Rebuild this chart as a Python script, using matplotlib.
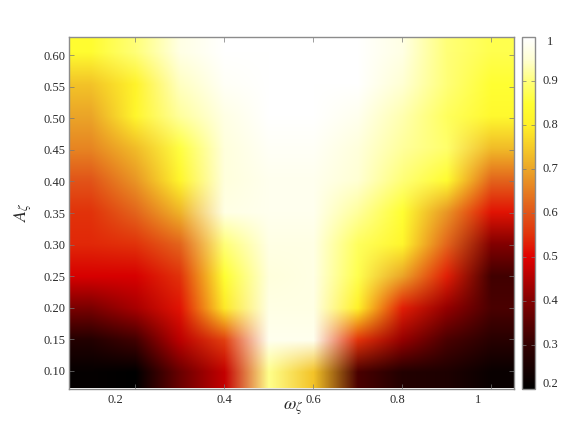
import numpy as np
import matplotlib as mpl
mpl.use("Agg")
import matplotlib.pyplot as plt
from matplotlib.colors import LinearSegmentedColormap
from matplotlib.transforms import blended_transform_factory

omega = [0.1, 0.2, 0.3, 0.4, 0.5, 0.6, 0.7, 0.8, 0.9, 1.0]
amp = [0.10, 0.15, 0.20, 0.25, 0.30, 0.35, 0.40, 0.45, 0.50, 0.55, 0.60]

# one row per amplitude
row_010 = [0.21, 0.20, 0.37, 0.47, 0.91, 0.74, 0.33, 0.27, 0.26, 0.22]
row_015 = [0.27, 0.32, 0.46, 0.57, 0.98, 0.98, 0.55, 0.42, 0.33, 0.28]
row_020 = [0.39, 0.44, 0.52, 0.79, 0.97, 0.97, 0.80, 0.53, 0.42, 0.33]
row_025 = [0.49, 0.49, 0.55, 0.85, 0.96, 0.97, 0.87, 0.70, 0.53, 0.32]
row_030 = [0.54, 0.55, 0.62, 0.90, 0.97, 0.97, 0.88, 0.82, 0.62, 0.40]
row_035 = [0.55, 0.62, 0.72, 0.97, 0.98, 0.98, 0.92, 0.85, 0.68, 0.52]
row_040 = [0.60, 0.68, 0.82, 0.96, 0.98, 0.98, 0.95, 0.90, 0.84, 0.62]
row_045 = [0.66, 0.73, 0.86, 0.96, 0.99, 0.99, 0.96, 0.92, 0.89, 0.73]
row_050 = [0.70, 0.82, 0.92, 0.97, 1.00, 1.00, 0.98, 0.93, 0.88, 0.83]
row_055 = [0.74, 0.81, 0.94, 0.99, 1.00, 1.00, 1.00, 0.95, 0.90, 0.85]
row_060 = [0.84, 0.90, 0.97, 1.00, 1.00, 1.00, 1.00, 0.97, 0.90, 0.87]

x_ticks = [0.2, 0.4, 0.6, 0.8, 1.0]
x_labels = ["0.2", "0.4", "0.6", "0.8", "1"]
x_label_pos = [0.155, 0.40, 0.60, 0.79, 0.97]  # labels sit off their ticks
y_ticks = amp
y_labels = ["%.2f" % a for a in amp]
cb_ticks = [0.2, 0.3, 0.4, 0.5, 0.6, 0.7, 0.8, 0.9, 1.0]
cb_labels = ["0.2", "0.3", "0.4", "0.5", "0.6", "0.7", "0.8", "0.9", "1"]
cb_label_pos = [0.21, 0.3, 0.4, 0.5, 0.6, 0.7, 0.8, 0.9, 0.99]

plt.rcParams['font.family'] = ['Liberation Serif', 'DejaVu Serif']
plt.rcParams['mathtext.fontset'] = 'stix'

edge = "#8c8c8c"
text_col = "#2a2a2a"
tick_col = "#777777"
W, H = 581, 436

# palette as seen on the colour box
pal = [(0.20, (0, 0, 0)), (0.30, (50, 0, 0)), (0.40, (130, 0, 0)), (0.50, (225, 0, 0)),
       (0.55, (225, 50, 10)), (0.60, (225, 85, 25)), (0.70, (235, 165, 40)),
       (0.80, (255, 240, 40)), (0.85, (255, 255, 50)), (0.90, (255, 255, 120)),
       (0.95, (255, 255, 210)), (1.00, (255, 255, 255))]
cmap = LinearSegmentedColormap.from_list(
    "pal", [((v - 0.2) / 0.8, tuple(c / 255 for c in col)) for v, col in pal], N=512)

table = np.array([row_010, row_015, row_020, row_025, row_030, row_035,
                  row_040, row_045, row_050, row_055, row_060])

fig = plt.figure(figsize=(W / 100, H / 100), dpi=100)
ax = fig.add_axes([68.5 / W, 1 - 388.5 / H, 445 / W, 351 / H])
cax = fig.add_axes([522 / W, 1 - 388.5 / H, 13 / W, 351 / H])

im = ax.imshow(table, origin="lower", aspect="auto", cmap=cmap, vmin=0.2, vmax=1.0,
               extent=[0.05, 1.05, 0.075 - 0.0027, 0.625 + 0.0027],
               interpolation="bilinear", interpolation_stage="rgba")

ax.set_xticks(x_ticks)
ax.set_xticklabels([])
ax.set_yticks(y_ticks)
ax.set_yticklabels(y_labels, fontsize=9, color=text_col)
ax.tick_params(axis="both", direction="in", length=3.5, width=0.5, color=tick_col,
               top=True, right=True, pad=2.5)
for s in ax.spines.values():
    s.set_color(edge)
    s.set_linewidth(1.0)

tr = blended_transform_factory(ax.transData, fig.transFigure)
for pos, lab in zip(x_label_pos, x_labels):
    ax.text(pos, 1 - 400 / H, lab, transform=tr, ha="center", va="center",
            fontsize=9, color=text_col)

fig.text(293 / W, 1 - 408 / H, r"$\omega_\zeta$", ha="center", va="center",
         fontsize=13, color=text_col)
fig.text(23 / W, 1 - 212 / H, r"$A_\zeta$", ha="center", va="center",
         rotation=90, fontsize=13, color=text_col)

cb = fig.colorbar(im, cax=cax)
cb.set_ticks(cb_ticks)
cb.set_ticklabels([])
cb.ax.tick_params(axis="y", direction="in", length=3, width=0.5, color=tick_col,
                  left=True, right=True)
cb.outline.set_edgecolor(edge)
cb.outline.set_linewidth(1.0)

tr2 = blended_transform_factory(fig.transFigure, cax.transData)
for pos, lab in zip(cb_label_pos, cb_labels):
    cax.text(550 / W, pos, lab, transform=tr2, ha="center", va="center",
             fontsize=9, color=text_col)

fig.savefig("out.png", dpi=100)
